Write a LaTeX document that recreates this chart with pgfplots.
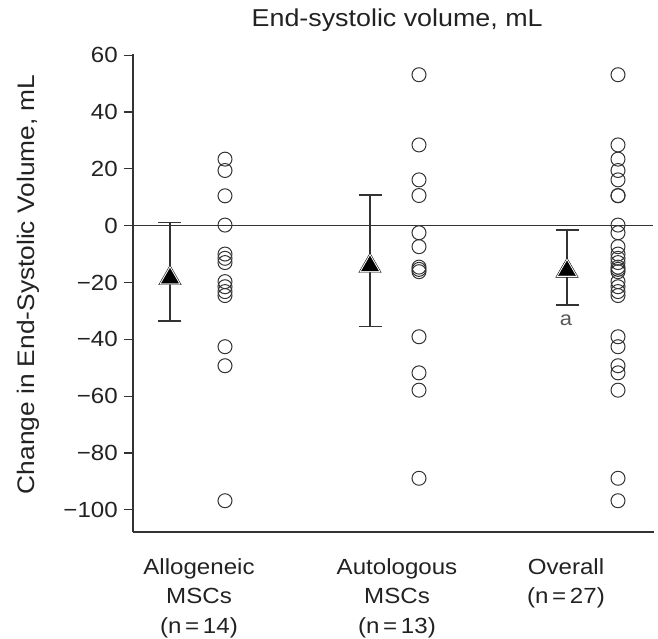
\documentclass[border=0pt]{standalone}
\usepackage{fontspec}
\setmainfont{Liberation Sans}[FakeStretch=1.1]
\usepackage{pgfplots}
\pgfplotsset{compat=1.18}
\definecolor{ink}{HTML}{333333}
\definecolor{txt}{HTML}{222222}
\begin{document}
\begin{tikzpicture}
\begin{axis}[
  scale only axis, width=521bp, height=478bp,
  xmin=0, xmax=521, ymin=-107.8, ymax=60.4,
  axis x line*=bottom, axis y line*=left,
  axis line style={ink, line width=1.2bp},
  ytick={-100,-80,-60,-40,-20,0,20,40,60},
  yticklabels={−100,−80,−60,−40,−20,0,20,40,60},
  y tick style={ink, line width=1.2bp},
  major tick length=9bp,
  tick align=outside,
  xtick={66,264,433},
  xticklabels={{Allogeneic\\MSCs\\(n\,=\,14)},{Autologous\\MSCs\\(n\,=\,13)},{Overall\\(n\,=\,27)}},
  x tick style={draw=none},
  xticklabel style={align=center, text=txt, font=\fontsize{22}{30}\selectfont, inner sep=0pt, yshift=-17bp},
  yticklabel style={text=txt, font=\fontsize{22}{26}\selectfont, inner sep=0pt, xshift=-6bp},
  ylabel={Change in End-Systolic Volume, mL},
  ylabel style={at={(axis description cs:-0.2015,0.518)}, anchor=center, text=txt, font=\fontsize{24}{28}\selectfont},
  title={End-systolic volume, mL},
  title style={at={(axis description cs:0.507,1)}, anchor=base, yshift=22bp, text=txt, font=\fontsize{24.5}{28}\selectfont},
  clip=false,
]
% zero line
\addplot[ink, line width=1.2bp] coordinates {(0,0) (520,0)};
% Allogeneic individual values
\addplot[only marks, mark=o, mark size=7bp, mark options={ink, line width=1bp}] coordinates {
(92,23.4) (92,19.4) (92,10.5) (92,0.2) (92,-10) (92,-11.5) (92,-13) (92,-19.7) (92,-21.5) (92,-23.2) (92,-24.6) (92,-42.6) (92,-49.3) (92,-96.8)};
% Autologous individual values
\addplot[only marks, mark=o, mark size=7bp, mark options={ink, line width=1bp}] coordinates {
(286,53.1) (286,28.4) (286,16.1) (286,10.6) (286,-2.5) (286,-7.4) (286,-14.6) (286,-15.4) (286,-16.2) (286,-39.1) (286,-51.8) (286,-57.9) (286,-88.9)};
% Overall individual values
\addplot[only marks, mark=o, mark size=7bp, mark options={ink, line width=1bp}] coordinates {
(485,23.4) (485,19.4) (485,10.5) (485,0.2) (485,-10) (485,-11.5) (485,-13) (485,-19.7) (485,-21.5) (485,-23.2) (485,-24.6) (485,-42.6) (485,-49.3) (485,-96.8)
(485,53.1) (485,28.4) (485,16.1) (485,10.6) (485,-2.5) (485,-7.4) (485,-14.6) (485,-15.4) (485,-16.2) (485,-39.1) (485,-51.8) (485,-57.9) (485,-88.9)};
% 95% CI error bars
\addplot[ink, only marks, mark=none, error bars/.cd, y dir=both, y explicit,
  error bar style={ink, line width=1.3bp},
  error mark options={rotate=90, ink, line width=1.3bp, mark size=11.5bp}]
 coordinates {(37,-18.5) += (0,19.7) -= (0,15.1)
              (237,-14.2) += (0,25.0) -= (0,21.3)
              (434,-15.9) += (0,14.4) -= (0,12.0)};
% means
\addplot[only marks, mark=triangle*, mark size=13bp, mark options={fill=white, draw=none}] coordinates {(37,-18.5) (237,-14.2) (434,-15.9)};
\addplot[only marks, mark=triangle*, mark size=9.8bp, mark options={fill=black, draw=none}] coordinates {(37,-18.5) (237,-14.2) (434,-15.9)};
\node[font=\fontsize{20}{24}\selectfont, text=black!65] at (axis cs:433,-33.2) {a};
\end{axis}
\path (current axis.south west) ++(-133bp,-104bp) rectangle ++(658bp,636bp);
\end{tikzpicture}
\end{document}
